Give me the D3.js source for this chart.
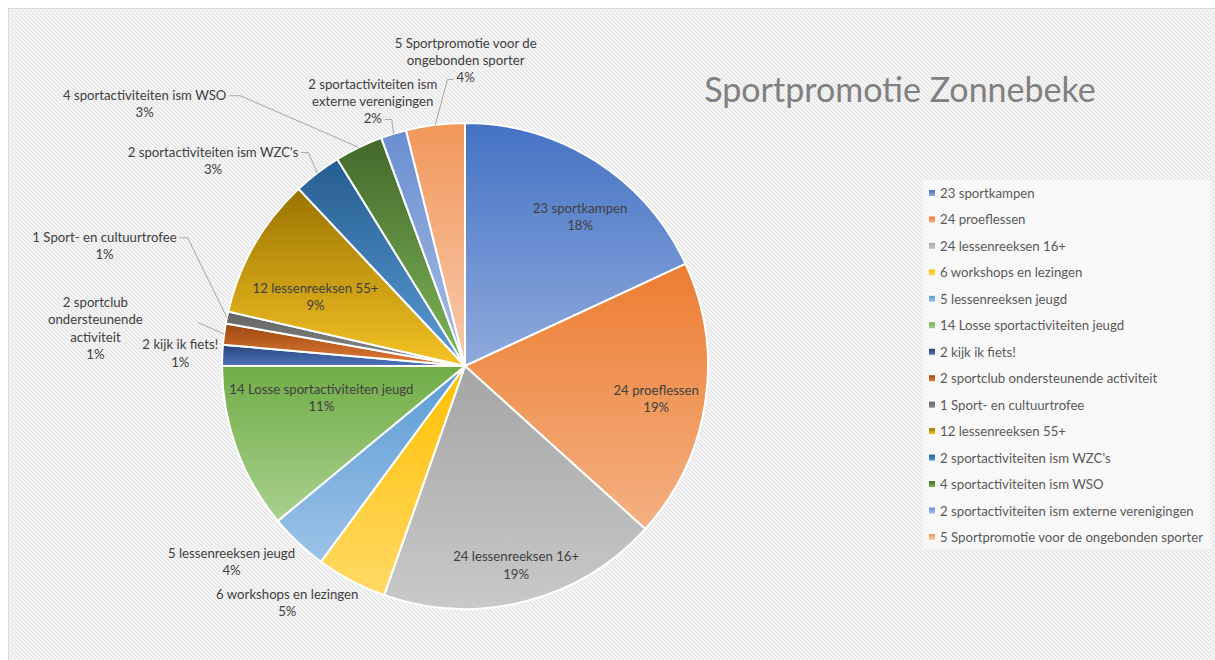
<!DOCTYPE html>
<html>
<head>
<meta charset="utf-8">
<script src="https://cdn.jsdelivr.net/npm/d3@7"></script>
<style>
  body { margin: 0; background: #fff; }
  text { font-family: Lato, "Open Sans", sans-serif; }
</style>
</head>
<body>
<div id="chart"></div>
<script>
(function(){

    // data (share of each activity)
    var names = [
        "23 sportkampen",
        "24 proeflessen",
        "24 lessenreeksen 16+",
        "6 workshops en lezingen",
        "5 lessenreeksen jeugd",
        "14 Losse sportactiviteiten jeugd",
        "2 kijk ik fiets!",
        "2 sportclub ondersteunende activiteit",
        "1 Sport- en cultuurtrofee",
        "12 lessenreeksen 55+",
        "2 sportactiviteiten ism WZC's",
        "4 sportactiviteiten ism WSO",
        "2 sportactiviteiten ism externe verenigingen",
        "5 Sportpromotie voor de ongebonden sporter"
    ];
    var values = [18.1, 18.6, 18.7, 4.7, 3.9, 11.0, 1.4, 1.4, 0.8, 9.4, 3.2, 3.2, 1.7, 3.9];
    var title = "Sportpromotie Zonnebeke";

    // palette: gradient top -> bottom
    var topColors = ["#4472C4", "#ED7D31", "#A5A5A5", "#FFC000", "#5B9BD5", "#70AD47",
                     "#264478", "#9E480E", "#636363", "#997300", "#255E91", "#43682B",
                     "#698ED0", "#F1975A"];
    var bottomColors = ["#8FAADC", "#F4B183", "#C9C9C9", "#FFD966", "#9DC3E6", "#A9D18E",
                        "#4F75C0", "#E07B39", "#8A8A8A", "#F5C325", "#5B9BD5", "#7DB657",
                        "#A9BEE6", "#F8CBAD"];

    // how each data label is wrapped and placed
    var labelBreaks = {
        7: ["2 sportclub", "ondersteunende", "activiteit"],
        11: ["4 sportactiviteiten ism WSO"],
        12: ["2 sportactiviteiten ism", "externe verenigingen"],
        13: ["5 Sportpromotie voor de", "ongebonden sporter"]
    };
    var labelLayout = [
        {inside: true, rf: 0.78, dx: 13, dy: 10},
        {inside: true, rf: 0.80, dx: -1, dy: 3},
        {inside: true, rf: 0.84, dx: 1, dy: 1},
        {inside: false, dx: -50, dy: -5},
        {inside: false, dx: -46, dy: -3},
        {inside: true, rf: 0.65, dx: 5, dy: -22},
        {inside: false, dx: -12, dy: -1},
        {inside: false, dx: -99, dy: -2, lead: {line: 1, side: "right", gap: 55, hook: 0, ly: 3}},
        {inside: false, dx: -93, dy: -66, lead: {line: 0, side: "right", gap: 3, hook: 8, ly: 1}},
        {inside: true, rf: 0.70, dx: -2, dy: 15},
        {inside: false, dx: -86, dy: 11, lead: {line: 0, side: "right", gap: 3, hook: 7, ly: 1}},
        {inside: false, dx: -201, dy: -17, lead: {line: 0, side: "right", gap: 3, hook: 11, ly: 1}},
        {inside: false, dx: -12, dy: -4, lead: {line: 2, side: "right", gap: 3, hook: 7, ly: 1}},
        {inside: false, dx: 34, dy: -35, lead: {line: 2, side: "left", gap: 3, hook: 6, ly: 2}}
    ];

    var W = 1215, H = 660;
    var cx = 465, cy = 366, R = 243;
    var lineH = 17.4;
    var fs = 13.2;

    var data = names.map(function(n, i) { return {name: n, value: values[i], i: i}; });
    var total = d3.sum(values);
    var pct = d3.format(".0%");

    var svg = d3.select("#chart").append("svg")
        .attr("width", W)
        .attr("height", H);

    var defs = svg.append("defs");

    // diagonal hatch background
    var pat = defs.append("pattern")
        .attr("id", "hatch")
        .attr("patternUnits", "userSpaceOnUse")
        .attr("width", 4)
        .attr("height", 4);
    pat.append("rect").attr("width", 4).attr("height", 4).attr("fill", "#f8f8f8");
    pat.append("path")
        .attr("d", "M-1,-1L5,5M-1,3L1,5M3,-1L5,1")
        .attr("stroke", "#e2e2e2")
        .attr("stroke-width", 1.2);

    data.forEach(function(d) {
        var g = defs.append("linearGradient")
            .attr("id", "grad" + d.i)
            .attr("x1", 0).attr("y1", 0)
            .attr("x2", 0).attr("y2", 1);
        g.append("stop").attr("offset", "0%").attr("stop-color", topColors[d.i]);
        g.append("stop").attr("offset", "100%").attr("stop-color", bottomColors[d.i]);
    });

    svg.append("rect")
        .attr("x", 8.5).attr("y", 8.5)
        .attr("width", W).attr("height", H)
        .attr("fill", "url(#hatch)")
        .attr("stroke", "#d9d9d9");

    // title
    svg.append("text")
        .attr("x", 900)
        .attr("y", 102)
        .attr("text-anchor", "middle")
        .attr("fill", "#808080")
        .attr("font-size", 34)
        .text(title);

    var pie = d3.pie().sort(null).value(function(d) { return d.value; });
    var arc = d3.arc().innerRadius(0).outerRadius(R);
    var arcs = pie(data);

    var chart = svg.append("g")
        .attr("transform", "translate(" + cx + "," + cy + ")");

    chart.selectAll("path.slice")
        .data(arcs)
      .enter().append("path")
        .attr("class", "slice")
        .attr("d", arc)
        .attr("fill", function(d) { return "url(#grad" + d.data.i + ")"; })
        .attr("stroke", "#fff")
        .attr("stroke-width", 2)
        .attr("stroke-linejoin", "round");

    function polar(a, r) { return [r * Math.sin(a), -r * Math.cos(a)]; }

    // data labels
    arcs.forEach(function(d) {
        var i = d.data.i;
        var lay = labelLayout[i];
        var mid = (d.startAngle + d.endAngle) / 2;
        var p = lay.inside ? polar(mid, lay.rf * R) : polar(mid, R + 30);
        var x = p[0] + lay.dx, y = p[1] + lay.dy;
        var lines = (labelBreaks[i] || [d.data.name]).concat([pct(d.data.value / total)]);
        var y0 = y - (lines.length - 1) * lineH / 2;

        var t = chart.append("text")
            .attr("text-anchor", "middle")
            .attr("fill", "#404040")
            .attr("font-size", fs);
        var spans = lines.map(function(s, k) {
            return t.append("tspan")
                .attr("x", x)
                .attr("y", y0 + k * lineH)
                .attr("dominant-baseline", "central")
                .text(s);
        });

        if (lay.lead) {
            var L = lay.lead;
            var w = spans[L.line].node().getComputedTextLength();
            var ly = y0 + L.line * lineH + L.ly;
            var sx = L.side === "right" ? x + w / 2 + L.gap : x - w / 2 - L.gap;
            var hx = L.side === "right" ? sx + L.hook : sx - L.hook;
            var e = polar(mid, R);
            chart.insert("polyline", "text")
                .attr("points", [[sx, ly], [hx, ly], e].join(" "))
                .attr("fill", "none")
                .attr("stroke", "#a6a6a6")
                .attr("stroke-width", 1);
        }
    });

    // legend
    var legend = svg.append("g").attr("class", "legend");
    legend.append("rect")
        .attr("x", 923).attr("y", 180)
        .attr("width", 288).attr("height", 369)
        .attr("fill", "#fff")
        .attr("opacity", 0.6);

    var ly = d3.scalePoint().domain(d3.range(names.length)).range([193, 537]);
    var item = legend.selectAll("g.item")
        .data(data)
      .enter().append("g")
        .attr("class", "item")
        .attr("transform", function(d) { return "translate(929," + ly(d.i) + ")"; });
    item.append("rect")
        .attr("x", 0).attr("y", -3)
        .attr("width", 6).attr("height", 6)
        .attr("fill", function(d) { return "url(#grad" + d.i + ")"; });
    item.append("text")
        .attr("x", 11)
        .attr("dominant-baseline", "central")
        .attr("fill", "#595959")
        .attr("font-size", fs)
        .text(function(d) { return d.name; });

})();
</script>
</body>
</html>
